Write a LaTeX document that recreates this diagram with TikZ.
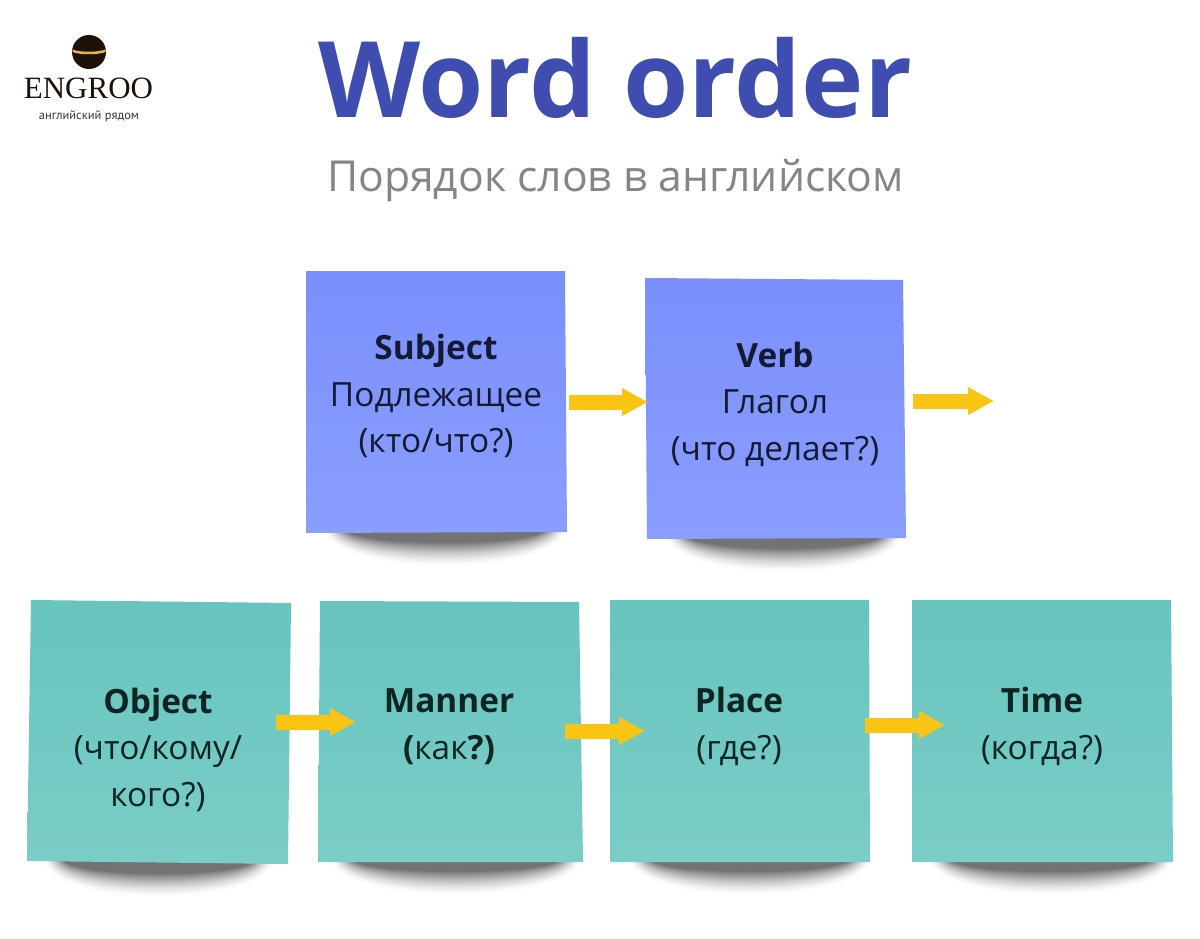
\documentclass[tikz,border=0pt]{standalone}
\usepackage{fontspec}
\setmainfont{Open Sans}
\newfontfamily\logoserif{Liberation Serif}
\newfontfamily\logosans{PT Sans}
\usetikzlibrary{arrows.meta}
\definecolor{titleblue}{HTML}{3F4DB0}
\definecolor{subgray}{HTML}{858585}
\definecolor{bluetop}{HTML}{7A8FFB}
\definecolor{bluebot}{HTML}{8A9EFE}
\definecolor{tealtop}{HTML}{67C4BE}
\definecolor{tealbot}{HTML}{7BCDC7}
\definecolor{inkblue}{HTML}{151A33}
\definecolor{inkteal}{HTML}{0E2524}
\definecolor{arrowgold}{HTML}{F9C413}
\definecolor{logobrown}{HTML}{1E1208}
\definecolor{logogold}{HTML}{E8B93F}
\newcommand{\fs}[2]{\fontsize{#1}{#2}\selectfont}
% soft shadow: opaque grey layers on the white page, lightest and widest first
\newcommand{\noteshadow}[3]{%
  \foreach \k in {0,...,40}{
    \pgfmathsetmacro{\g}{55*pow(\k/40,1.5)}
    \pgfmathsetmacro{\xl}{#1+\k*0.5}
    \pgfmathsetmacro{\xr}{#2-\k*0.5}
    \pgfmathsetmacro{\yb}{#3+46-\k*0.8}
    \fill[black!\g] (\xl,#3-4) .. controls ({\xl+10},\yb) and ({\xr-10},\yb) .. (\xr,#3-4) -- cycle;
  }%
}
\tikzset{
  x=1pt,y=-1pt,
  bluenote/.style={top color=bluetop,bottom color=bluebot},
  tealnote/.style={top color=tealtop,bottom color=tealbot},
  notetext/.style={align=center,inner sep=0pt,font=\fs{33.4}{46.5}},
  bluetext/.style={notetext,text=inkblue},
  tealtext/.style={notetext,text=inkteal},
  flow/.style={draw=arrowgold,line width=15pt,-{Triangle[length=26pt,width=26pt,fill=arrowgold]}}
}
\begin{document}
\begin{tikzpicture}
\useasboundingbox (0,0) rectangle (1200,939);
\fill[white] (0,0) rectangle (1200,939);
% logo
\fill[logobrown] (89,52) circle (17);
\fill[logogold] (72.5,49.5) .. controls (80,52.5) and (98,52.5) .. (105.5,49.5) -- (105.5,52) .. controls (98,55) and (80,55) .. (72.5,52) -- cycle;
\node[inner sep=0pt,anchor=base,text=logobrown,font=\logoserif\fs{31}{31}] (logo) at (88.5,99) {ENGROO};
\node[inner sep=0pt,anchor=base,text=logobrown!85,font=\logosans\fs{12.5}{12.5}] (logosub) at (89,119.5) {английский рядом};
% title
\node[inner sep=0pt,anchor=base,text=titleblue,font=\bfseries\fs{105.6}{105.6}] (title) at (615,118) {Word order};
\node[inner sep=0pt,anchor=base,text=subgray,font=\fs{42.7}{42.7}] (subtitle) at (615.5,192) {Порядок слов в английском};
% shadows
\noteshadow{324}{566}{533}
\noteshadow{666}{902}{539}
\noteshadow{44}{274}{864}
\noteshadow{330}{582}{862}
\noteshadow{628}{872}{862}
\noteshadow{928}{1174}{862}
% notes
\path[bluenote] (306,271) -- (565,271) -- (567,532) -- (306,533) -- cycle;
\path[bluenote] (645,278) -- (903,280) -- (906,538) -- (647,539) -- cycle;
\path[tealnote] (31,600) -- (291,603) -- (288,864) -- (27,861) -- cycle;
\path[tealnote] (320,601) -- (579,602) -- (583,862) -- (318,862) -- cycle;
\path[tealnote] (610,600) -- (869,600) -- (870,862) -- (610,862) -- cycle;
\path[tealnote] (912,600) -- (1171,600) -- (1173,862) -- (912,862) -- cycle;
% note texts
\node[bluetext] (subject) at (436,396) {\textbf{Subject}\\Подлежащее\\(кто/что?)};
\node[bluetext] (verb) at (775,404) {\textbf{Verb}\\Глагол\\(что делает?)};
\node[tealtext] (object) at (158,749.5) {\textbf{Object}\\(что/кому/\\кого?)};
\node[tealtext] (manner) at (449,726.5) {\textbf{Manner}\\\textbf{(}как\textbf{?)}};
\node[tealtext] (place) at (739,726.5) {\textbf{Place}\\(где?)};
\node[tealtext] (time) at (1042,726.5) {\textbf{Time}\\(когда?)};
% arrow ends
\coordinate (a1s) at (569,402); \coordinate (a1e) at (648,402);
\coordinate (a2s) at (913,401); \coordinate (a2e) at (994,401);
\coordinate (a3s) at (276,722); \coordinate (a3e) at (356,722);
\coordinate (a4s) at (565,731); \coordinate (a4e) at (645,731);
\coordinate (a5s) at (865,725); \coordinate (a5e) at (945,725);
\draw[flow] (a1s) -- (a1e);
\draw[flow] (a2s) -- (a2e);
\draw[flow] (a3s) -- (a3e);
\draw[flow] (a4s) -- (a4e);
\draw[flow] (a5s) -- (a5e);
\end{tikzpicture}
\end{document}
